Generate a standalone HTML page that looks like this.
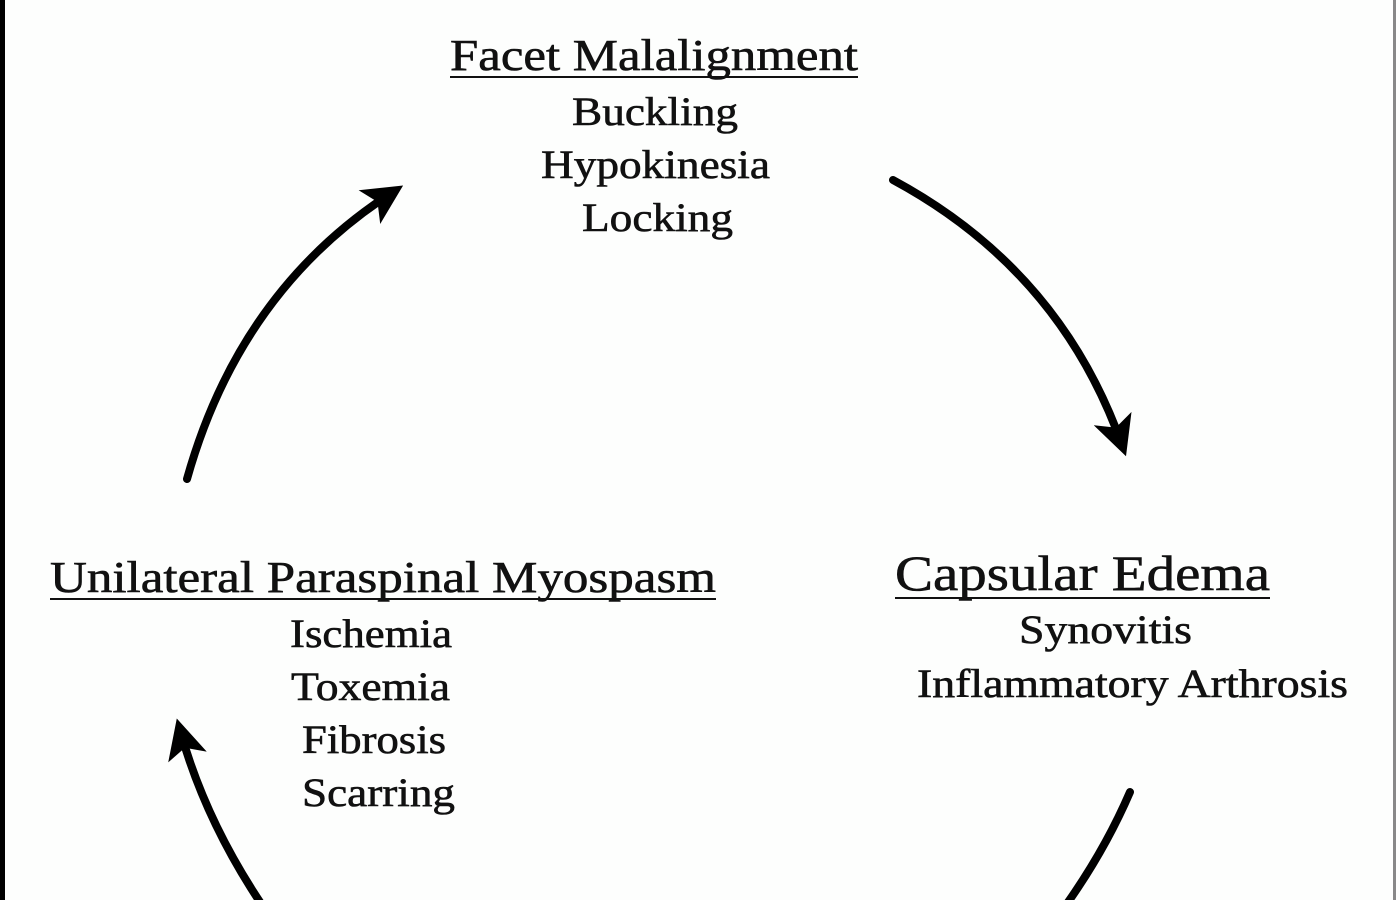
<!DOCTYPE html>
<html><head><meta charset="utf-8"><style>
html,body{margin:0;padding:0;background:#fff;}
svg{display:block}
text{font-family:"Liberation Serif",serif;fill:#111;}
</style></head><body>
<svg width="1400" height="900" viewBox="0 0 1400 900" xmlns="http://www.w3.org/2000/svg">
<rect x="0" y="0" width="1400" height="900" fill="#fdfefd"/>
<rect x="0" y="0" width="5" height="900" fill="#000"/>
<rect x="1393" y="0" width="3" height="900" fill="#888"/>
<defs>
<marker id="ah" markerWidth="5" markerHeight="5" refX="3.5" refY="2.5" orient="auto" markerUnits="strokeWidth">
<path d="M0,0 L5,2.5 L0,5 L1.2,2.5 Z" fill="#000"/>
</marker>
</defs>
<g fill="none" stroke="#000" stroke-width="8" stroke-linecap="round">
<path d="M187,479 Q240,290 393,192" marker-end="url(#ah)"/>
<path d="M893,180 Q1060,270 1122,445" marker-end="url(#ah)"/>
<path d="M1130,792 Q1105,850 1066,905"/>
<path d="M262,905 Q205,820 180,730" marker-end="url(#ah)"/>
</g>
<g stroke="#111" stroke-width="0.6">
<text x="450" y="70" font-size="44" textLength="408" lengthAdjust="spacingAndGlyphs">Facet Malalignment</text>
<text x="572" y="125" font-size="40" textLength="166" lengthAdjust="spacingAndGlyphs">Buckling</text>
<text x="541" y="178" font-size="40" textLength="229" lengthAdjust="spacingAndGlyphs">Hypokinesia</text>
<text x="582" y="231" font-size="40" textLength="151" lengthAdjust="spacingAndGlyphs">Locking</text>
<text x="50" y="592" font-size="44" textLength="666" lengthAdjust="spacingAndGlyphs">Unilateral Paraspinal Myospasm</text>
<text x="290" y="647" font-size="40" textLength="162" lengthAdjust="spacingAndGlyphs">Ischemia</text>
<text x="291" y="700" font-size="40" textLength="159" lengthAdjust="spacingAndGlyphs">Toxemia</text>
<text x="302" y="753" font-size="40" textLength="144" lengthAdjust="spacingAndGlyphs">Fibrosis</text>
<text x="302" y="806" font-size="40" textLength="153" lengthAdjust="spacingAndGlyphs">Scarring</text>
<text x="895" y="590" font-size="50" textLength="375" lengthAdjust="spacingAndGlyphs">Capsular Edema</text>
<text x="1019" y="643" font-size="40" textLength="173" lengthAdjust="spacingAndGlyphs">Synovitis</text>
<text x="917" y="697" font-size="40" textLength="431" lengthAdjust="spacingAndGlyphs">Inflammatory Arthrosis</text>
</g>
<line x1="450" y1="77" x2="858" y2="77" stroke="#111" stroke-width="2"/>
<line x1="50" y1="599" x2="716" y2="599" stroke="#111" stroke-width="2"/>
<line x1="895" y1="598" x2="1270" y2="598" stroke="#111" stroke-width="2"/>
</svg>
</body></html>
